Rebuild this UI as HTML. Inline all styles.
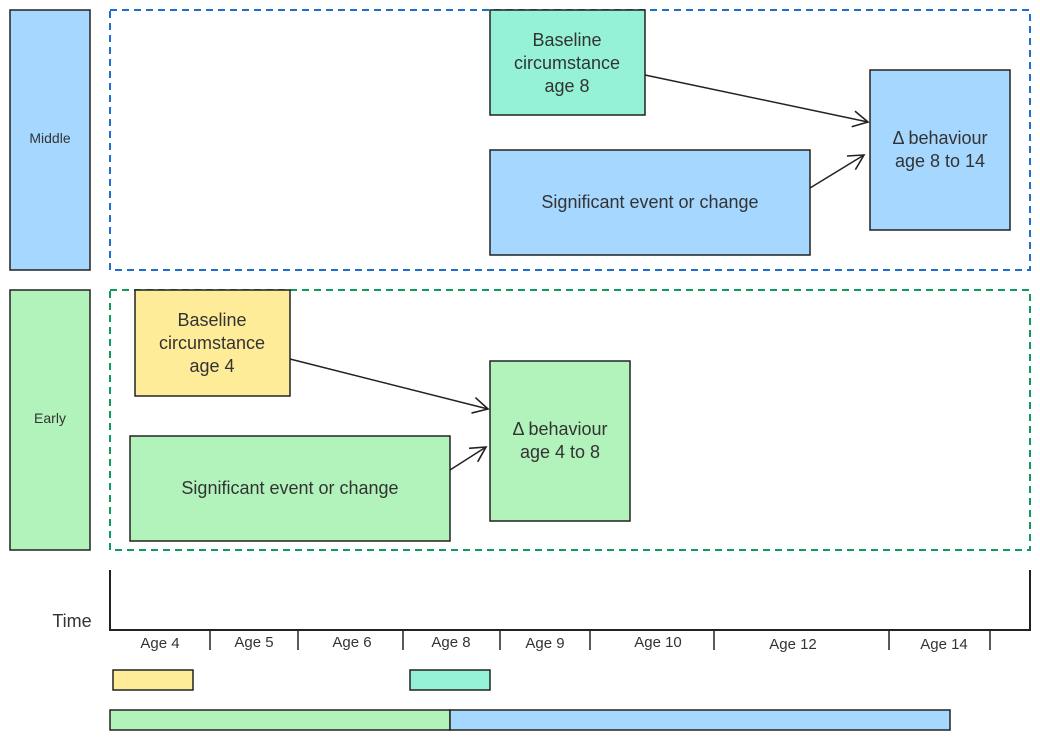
<!DOCTYPE html>
<html><head><style>body{margin:0;background:#fff}svg{display:block}text{font-family:"Liberation Sans",sans-serif;fill:#333}</style></head><body>
<svg width="1040" height="740" viewBox="0 0 1040 740" xmlns="http://www.w3.org/2000/svg">
<defs><marker id="a" markerWidth="20" markerHeight="20" refX="17" refY="10" orient="auto" markerUnits="userSpaceOnUse"><path d="M2,2 L17,10 L2,18" fill="none" stroke="#222" stroke-width="1.6"/></marker></defs>
<rect x="10" y="10" width="80" height="260" fill="#a6d7ff" stroke="#222" stroke-width="1.5"/>
<text x="50" y="143" font-size="14" text-anchor="middle">Middle</text>
<rect x="10" y="290" width="80" height="260" fill="#b2f2bb" stroke="#222" stroke-width="1.5"/>
<text x="50" y="423" font-size="14" text-anchor="middle">Early</text>
<rect x="110" y="10" width="920" height="260" fill="none" stroke="#1e6fc9" stroke-width="2" stroke-dasharray="7,5"/>
<rect x="110" y="290" width="920" height="260" fill="none" stroke="#109a5e" stroke-width="2" stroke-dasharray="7,5"/>
<rect x="490" y="10" width="155" height="105" fill="#96f2d7" stroke="#222" stroke-width="1.5"/>
<text font-size="18" text-anchor="middle"><tspan x="567" y="46">Baseline</tspan><tspan x="567" y="69">circumstance</tspan><tspan x="567" y="92">age 8</tspan></text>
<rect x="490" y="150" width="320" height="105" fill="#a6d7ff" stroke="#222" stroke-width="1.5"/>
<text x="650" y="208" font-size="18" text-anchor="middle">Significant event or change</text>
<rect x="870" y="70" width="140" height="160" fill="#a6d7ff" stroke="#222" stroke-width="1.5"/>
<text font-size="18" text-anchor="middle"><tspan x="940" y="144">Δ behaviour</tspan><tspan x="940" y="167">age 8 to 14</tspan></text>
<line x1="645" y1="75" x2="868" y2="122" stroke="#222" stroke-width="1.5" marker-end="url(#a)"/>
<line x1="810" y1="188" x2="864" y2="155" stroke="#222" stroke-width="1.5" marker-end="url(#a)"/>
<rect x="135" y="290" width="155" height="106" fill="#ffec99" stroke="#222" stroke-width="1.5"/>
<text font-size="18" text-anchor="middle"><tspan x="212" y="326">Baseline</tspan><tspan x="212" y="349">circumstance</tspan><tspan x="212" y="372">age 4</tspan></text>
<rect x="130" y="436" width="320" height="105" fill="#b2f2bb" stroke="#222" stroke-width="1.5"/>
<text x="290" y="494" font-size="18" text-anchor="middle">Significant event or change</text>
<rect x="490" y="361" width="140" height="160" fill="#b2f2bb" stroke="#222" stroke-width="1.5"/>
<text font-size="18" text-anchor="middle"><tspan x="560" y="435">Δ behaviour</tspan><tspan x="560" y="458">age 4 to 8</tspan></text>
<line x1="290" y1="359" x2="488" y2="409" stroke="#222" stroke-width="1.5" marker-end="url(#a)"/>
<line x1="450" y1="470" x2="486" y2="447" stroke="#222" stroke-width="1.5" marker-end="url(#a)"/>
<path d="M110,570 V630 H1030 V570" fill="none" stroke="#222" stroke-width="2"/>
<g stroke="#222" stroke-width="1.5"><line x1="210" y1="630" x2="210" y2="650"/><line x1="298" y1="630" x2="298" y2="650"/><line x1="403" y1="630" x2="403" y2="650"/><line x1="500" y1="630" x2="500" y2="650"/><line x1="590" y1="630" x2="590" y2="650"/><line x1="714" y1="630" x2="714" y2="650"/><line x1="889" y1="630" x2="889" y2="650"/><line x1="990" y1="630" x2="990" y2="650"/></g>
<text x="72" y="627" font-size="18" text-anchor="middle">Time</text>
<g font-size="15" text-anchor="middle"><text x="160" y="648">Age 4</text><text x="254" y="647">Age 5</text><text x="352" y="647">Age 6</text><text x="451" y="647">Age 8</text><text x="545" y="648">Age 9</text><text x="658" y="647">Age 10</text><text x="793" y="649">Age 12</text><text x="944" y="649">Age 14</text></g>
<rect x="113" y="670" width="80" height="20" fill="#ffec99" stroke="#222" stroke-width="1.5"/>
<rect x="410" y="670" width="80" height="20" fill="#96f2d7" stroke="#222" stroke-width="1.5"/>
<rect x="110" y="710" width="340" height="20" fill="#b2f2bb" stroke="#222" stroke-width="1.5"/>
<rect x="450" y="710" width="500" height="20" fill="#a6d7ff" stroke="#222" stroke-width="1.5"/>
</svg>
</body></html>
